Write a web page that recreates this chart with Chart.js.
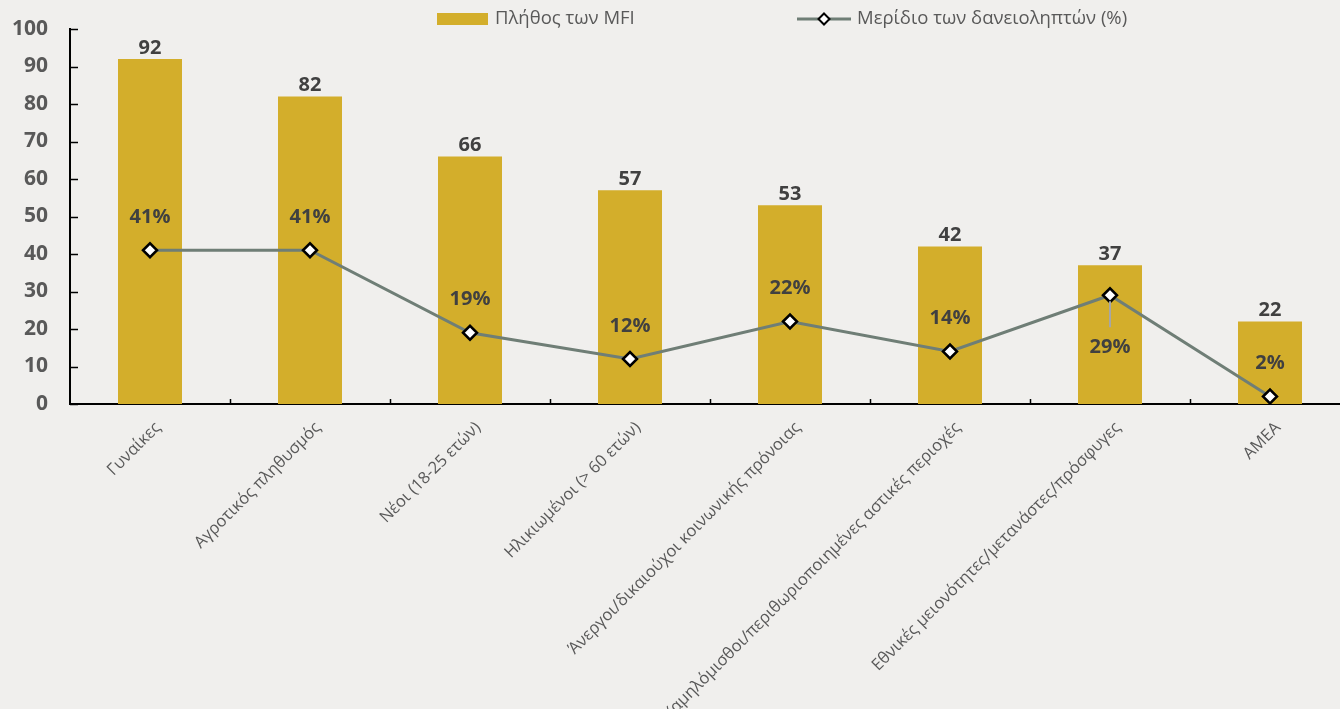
<!DOCTYPE html>
<html>
<head>
<meta charset="utf-8">
<script src="https://cdn.jsdelivr.net/npm/chart.js@4.4.0/dist/chart.umd.min.js"></script>
<style>
  html, body { margin: 0; padding: 0; background: #F0EFED; overflow: hidden; }
  #wrap { width: 1340px; height: 709px; position: relative; overflow: hidden; }
  canvas { display: block; }
</style>
</head>
<body>
<div id="wrap"><canvas id="c" width="1350" height="709"></canvas></div>
<script>
const categories = [
  "Γυναίκες",
  "Αγροτικός πληθυσμός",
  "Νέοι (18-25 ετών)",
  "Ηλικιωμένοι (> 60 ετών)",
  "Άνεργοι/δικαιούχοι κοινωνικής πρόνοιας",
  "Χαμηλόμισθοι/περιθωριοποιημένες αστικές περιοχές",
  "Εθνικές μειονότητες/μετανάστες/πρόσφυγες",
  "ΑΜΕΑ"
];
const mfiCount = [92, 82, 66, 57, 53, 42, 37, 22];
const borrowerShare = [41, 41, 19, 12, 22, 14, 29, 2];
const yTicks = [0, 10, 20, 30, 40, 50, 60, 70, 80, 90, 100];
const seriesNames = ["Πλήθος των MFI", "Μερίδιο των δανειοληπτών (%)"];
const shareLabelSide = ["above", "above", "above", "above", "above", "above", "below", "above"];

const BAR_COLOR = "#D3AE2B";
const LINE_COLOR = "#6F7E76";
const TEXT_DARK = "#404040";
const TEXT_GRAY = "#595959";
const FONT = "'Open Sans', 'DejaVu Sans', sans-serif";

const bgPlugin = {
  id: "bg",
  beforeDraw(chart) {
    const ctx = chart.ctx;
    ctx.save();
    ctx.fillStyle = "#F0EFED";
    ctx.fillRect(0, 0, chart.width, chart.height);
    ctx.restore();
  }
};

const ticksPlugin = {
  id: "innerTicks",
  afterDraw(chart) {
    const ctx = chart.ctx;
    const ys = chart.scales.y, xs = chart.scales.x;
    const area = chart.chartArea;
    ctx.save();
    ctx.strokeStyle = "#000";
    ctx.lineWidth = 1.5;
    yTicks.forEach(v => {
      const py = Math.round(ys.getPixelForValue(v)) + 0.5;
      ctx.beginPath();
      ctx.moveTo(area.left, py);
      ctx.lineTo(area.left + 8, py);
      ctx.stroke();
    });
    const n = categories.length;
    for (let i = 1; i < n; i++) {
      let px = (xs.getPixelForTick(i - 1) + xs.getPixelForTick(i)) / 2;
      px = Math.round(px) + 0.5;
      ctx.beginPath();
      ctx.moveTo(px, area.bottom);
      ctx.lineTo(px, area.bottom - 5);
      ctx.stroke();
    }
    ctx.restore();
  }
};

const labelsPlugin = {
  id: "dataLabels",
  afterDatasetsDraw(chart) {
    const ctx = chart.ctx;
    ctx.save();
    ctx.font = "bold 20px " + FONT;
    ctx.fillStyle = TEXT_DARK;
    ctx.textAlign = "center";
    ctx.textBaseline = "middle";
    const barMeta = chart.getDatasetMeta(1);
    barMeta.data.forEach((el, i) => {
      ctx.fillText(String(mfiCount[i]), el.x, el.y - 11);
    });
    const lineMeta = chart.getDatasetMeta(0);
    lineMeta.data.forEach((el, i) => {
      const txt = borrowerShare[i] + "%";
      if (shareLabelSide[i] === "below") {
        ctx.strokeStyle = "#A6A6A6";
        ctx.lineWidth = 2;
        ctx.beginPath();
        ctx.moveTo(el.x, el.y + 6);
        ctx.lineTo(el.x, el.y + 32);
        ctx.stroke();
        ctx.fillStyle = TEXT_DARK;
        ctx.fillText(txt, el.x, el.y + 52);
      } else {
        ctx.fillStyle = TEXT_DARK;
        ctx.fillText(txt, el.x, el.y - 33);
      }
    });
    ctx.restore();
  }
};

const legendPlugin = {
  id: "customLegend",
  afterDraw(chart) {
    const ctx = chart.ctx;
    ctx.save();
    ctx.font = "18.5px " + FONT;
    ctx.textBaseline = "middle";
    ctx.textAlign = "left";
    ctx.fillStyle = BAR_COLOR;
    ctx.fillRect(437, 13, 51, 12);
    ctx.fillStyle = TEXT_GRAY;
    ctx.fillText(seriesNames[0], 495, 19);
    ctx.strokeStyle = LINE_COLOR;
    ctx.lineWidth = 3;
    ctx.beginPath();
    ctx.moveTo(797, 19);
    ctx.lineTo(851, 19);
    ctx.stroke();
    ctx.beginPath();
    ctx.moveTo(824, 13.5);
    ctx.lineTo(829.5, 19);
    ctx.lineTo(824, 24.5);
    ctx.lineTo(818.5, 19);
    ctx.closePath();
    ctx.fillStyle = "#fff";
    ctx.fill();
    ctx.strokeStyle = "#000";
    ctx.lineWidth = 2;
    ctx.stroke();
    ctx.fillStyle = TEXT_GRAY;
    ctx.fillText(seriesNames[1], 857, 19);
    ctx.restore();
  }
};

new Chart(document.getElementById("c"), {
  data: {
    labels: categories,
    datasets: [
      {
        type: "line",
        label: seriesNames[1],
        data: borrowerShare,
        borderColor: LINE_COLOR,
        borderWidth: 3,
        pointStyle: "rectRot",
        pointRadius: 7,
        pointBackgroundColor: "#ffffff",
        pointBorderColor: "#000000",
        pointBorderWidth: 2.5,
        tension: 0,
        order: 0
      },
      {
        type: "bar",
        label: seriesNames[0],
        data: mfiCount,
        backgroundColor: BAR_COLOR,
        barPercentage: 0.4,
        categoryPercentage: 1,
        order: 1
      }
    ]
  },
  options: {
    responsive: false,
    animation: false,
    devicePixelRatio: 1,
    layout: { autoPadding: false, padding: { top: 29, left: 0, right: 0, bottom: 0 } },
    plugins: { legend: { display: false }, tooltip: { enabled: false } },
    scales: {
      x: {
        offset: true,
        grid: { display: false },
        border: { display: true, color: "#000", width: 2 },
        ticks: {
          font: { family: FONT, size: 16.5 },
          color: TEXT_GRAY,
          maxRotation: 45,
          minRotation: 45,
          autoSkip: false,
          padding: 6,
          labelOffset: 8
        },
        afterFit(scale) {
          scale.height = 305;
          scale.paddingLeft = 0; scale.paddingRight = 0;
          scale.paddingTop = 0; scale.paddingBottom = 0;
        }
      },
      y: {
        min: 0,
        max: 100,
        afterBuildTicks(scale) { scale.ticks = yTicks.map(v => ({ value: v })); },
        grid: { display: false },
        border: { display: true, color: "#000", width: 2 },
        ticks: {
          font: { family: FONT, size: 21, weight: "bold" },
          color: TEXT_GRAY,
          padding: 14
        },
        afterFit(scale) {
          scale.width = 70;
          scale.paddingTop = 0; scale.paddingBottom = 0;
          scale.paddingLeft = 0; scale.paddingRight = 0;
        }
      }
    }
  },
  plugins: [bgPlugin, ticksPlugin, labelsPlugin, legendPlugin]
});
</script>
</body>
</html>
